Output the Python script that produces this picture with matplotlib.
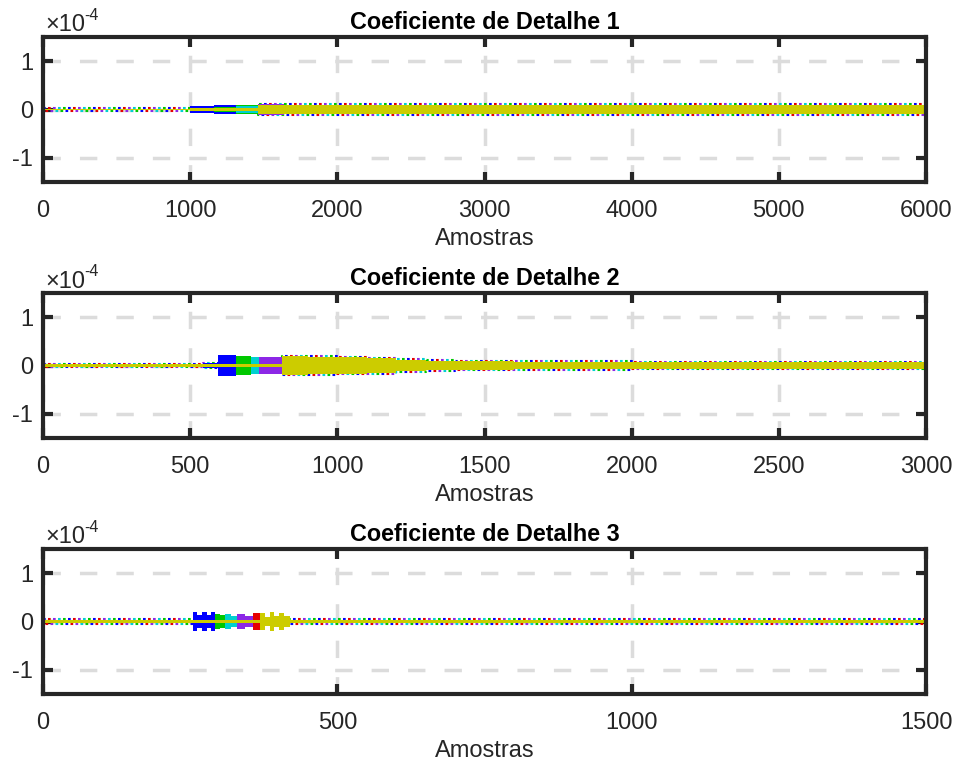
import matplotlib
matplotlib.use("Agg")
import matplotlib.pyplot as plt

plt.rcParams['font.family'] = ['Liberation Sans', 'DejaVu Sans']

# cores das series (ordem de desenho, amarelo por cima)
COLORS = ['#0000ff', '#00c800', '#00d0d0', '#8c28e6', '#e60000', '#cccc00']

# ---- Detalhe 1 (amplitudes em unidades de 1e-4) ----
X1 = [0, 1000, 1160, 1310, 1460, 1640, 2000, 2500, 3000, 4000, 5000, 6000]
B1 = [0, 0.07, 0.10, 0, 0, 0, 0, 0, 0, 0, 0, 0]
G1 = [0, 0, 0.06, 0.10, 0, 0, 0, 0, 0, 0, 0, 0]
C1 = [0, 0, 0, 0.08, 0.10, 0, 0, 0, 0, 0, 0, 0]
P1 = [0, 0, 0, 0, 0.11, 0, 0, 0, 0, 0, 0, 0]
R1 = [0, 0, 0, 0, 0, 0, 0, 0, 0, 0, 0, 0]
Y1 = [0.02, 0.025, 0.03, 0.04, 0.10, 0.10, 0.095, 0.09, 0.085, 0.085, 0.085, 0.085]
N1 = [0.025, 0.04, 0.05, 0.05, 0.115, 0.12, 0.12, 0.115, 0.11, 0.105, 0.105, 0.105]

# ---- Detalhe 2 ----
X2 = [0, 500, 545, 593, 654, 705, 735, 813, 900, 1000, 1100, 1200, 1300, 1400, 1600, 2000, 3000]
B2 = [0, 0.03, 0.06, 0.22, 0, 0, 0, 0, 0, 0, 0, 0, 0, 0, 0, 0, 0]
G2 = [0, 0, 0, 0, 0.19, 0, 0, 0, 0, 0, 0, 0, 0, 0, 0, 0, 0]
C2 = [0, 0, 0, 0, 0, 0.17, 0, 0, 0, 0, 0, 0, 0, 0, 0, 0, 0]
P2 = [0, 0, 0, 0, 0, 0, 0.18, 0, 0, 0, 0, 0, 0, 0, 0, 0, 0]
R2 = [0, 0, 0, 0, 0, 0, 0, 0, 0, 0, 0, 0, 0, 0, 0, 0, 0]
Y2 = [0.025, 0.03, 0.035, 0.04, 0.04, 0.04, 0.04, 0.19, 0.185, 0.17, 0.15, 0.12, 0.10, 0.09, 0.08, 0.07, 0.07]
N2 = [0.03, 0.04, 0.05, 0.05, 0.05, 0.05, 0.05, 0.20, 0.20, 0.185, 0.165, 0.135, 0.115, 0.10, 0.09, 0.08, 0.08]

# ---- Detalhe 3 ----
X3 = [0, 255, 262, 270, 278, 286, 293, 301, 310, 320, 330, 343, 356, 369, 377, 385, 393, 401, 410, 420, 1500]
B3 = [0, 0.20, 0.14, 0.20, 0.13, 0.19, 0, 0, 0, 0, 0, 0, 0, 0, 0, 0, 0, 0, 0, 0, 0]
G3 = [0, 0, 0, 0, 0, 0, 0.16, 0.13, 0, 0, 0, 0, 0, 0, 0, 0, 0, 0, 0, 0, 0]
C3 = [0, 0, 0, 0, 0, 0, 0, 0, 0.15, 0.12, 0, 0, 0, 0, 0, 0, 0, 0, 0, 0, 0]
P3 = [0, 0, 0, 0, 0, 0, 0, 0, 0, 0, 0.16, 0.12, 0, 0, 0, 0, 0, 0, 0, 0, 0]
R3 = [0, 0, 0, 0, 0, 0, 0, 0, 0, 0, 0, 0, 0.17, 0, 0, 0, 0, 0, 0, 0, 0]
Y3 = [0.035, 0.035, 0.035, 0.035, 0.035, 0.035, 0.035, 0.035, 0.035, 0.035, 0.035, 0.035, 0.035,
      0.18, 0.10, 0.19, 0.11, 0.18, 0.12, 0.035, 0.035]
N3 = [0.045, 0.045, 0.045, 0.045, 0.045, 0.045, 0.045, 0.045, 0.045, 0.045, 0.045, 0.045, 0.045,
      0.045, 0.045, 0.045, 0.045, 0.045, 0.045, 0.045, 0.045]

XTICKS = [[0, 1000, 2000, 3000, 4000, 5000, 6000],
          [0, 500, 1000, 1500, 2000, 2500, 3000],
          [0, 500, 1000, 1500]]
TITLES = ['Coeficiente de Detalhe 1', 'Coeficiente de Detalhe 2', 'Coeficiente de Detalhe 3']

paineis = [
    (X1, [B1, G1, C1, P1, R1, Y1], N1),
    (X2, [B2, G2, C2, P2, R2, Y2], N2),
    (X3, [B3, G3, C3, P3, R3, Y3], N3),
]

fig = plt.figure(figsize=(9.58, 7.67), dpi=100)
bottoms = [0.7627, 0.4289, 0.0952]
dark = '#262626'

for k, (x, series, noise) in enumerate(paineis):
    ax = fig.add_axes([0.0449, bottoms[k], 0.9217, 0.189])

    # pontinhos coloridos nas bordas do sinal
    for i, c in enumerate(COLORS[:-1]):
        for j, s in enumerate((1, -1)):
            ax.plot(x, [s * v for v in noise], drawstyle='steps-post', color=c,
                    lw=1.5, ls=((i * 2.4 + j * 1.2), (1.3, 10.7)), zorder=2,
                    solid_capstyle='butt')

    for c, amp in zip(COLORS, series):
        ax.fill_between(x, [-v for v in amp], amp, step='post', color=c, lw=0, zorder=3)

    ax.set_xlim(x[0], x[-1])
    ax.set_ylim(-1.5, 1.5)
    ax.set_xticks(XTICKS[k])
    ax.set_yticks([-1, 0, 1])
    ax.set_yticklabels(['-1', '0', '1'])
    ax.set_axisbelow(True)
    ax.grid(True, color='#dcdcdc', lw=2.5, ls=(0, (5, 5.5)))

    for sp in ax.spines.values():
        sp.set_linewidth(3)
        sp.set_color(dark)
        sp.set_zorder(5)
    ax.tick_params(direction='in', length=7.5, width=3, top=True, right=True,
                   color=dark, labelcolor=dark, labelsize=17)
    ax.tick_params(axis='x', pad=13)
    ax.tick_params(axis='y', pad=7)

    ax.set_title(TITLES[k], fontweight='bold', fontsize=16.8, pad=6, color='black')
    ax.set_xlabel('Amostras', fontsize=17, color=dark, labelpad=4)

    ax.annotate('×10', xy=(0, 1), xycoords='axes fraction', xytext=(1.5, 4),
                textcoords='offset points', ha='left', va='baseline',
                fontsize=17, color=dark)
    ax.annotate('-4', xy=(0, 1), xycoords='axes fraction', xytext=(29.5, 12.5),
                textcoords='offset points', ha='left', va='baseline',
                fontsize=11.5, color=dark)

plt.savefig('out.png', dpi=100)
